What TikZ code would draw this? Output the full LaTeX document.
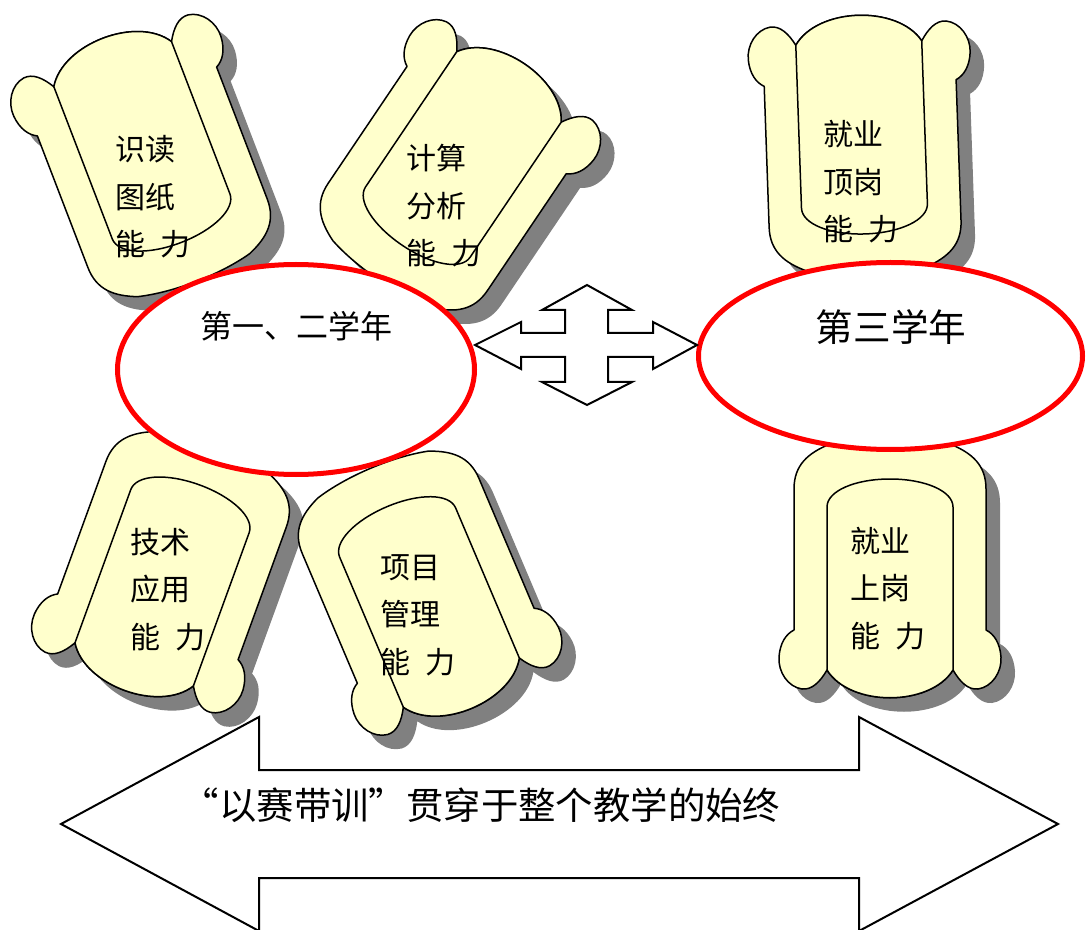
\documentclass[tikz,border=0pt]{standalone}
\usepackage{fontspec}
\setmainfont{Noto Sans CJK SC}
\definecolor{scrollfill}{HTML}{FFFFCC}
\definecolor{shadowgray}{HTML}{808080}
\definecolor{ringred}{HTML}{FF0000}
\tikzset{
  outerp/.style={insert path={
    (63,-93) .. controls (70,-105) and (78,-113) .. (88,-112)
    .. controls (102,-110) and (112,-95) .. (111,-80)
    .. controls (110,-66) and (104,-57) .. (96,-53)
    -- (96,88) .. controls (96,112) and (82,124) .. (60,133)
    .. controls (25,142) and (-25,142) .. (-60,133)
    .. controls (-82,124) and (-96,112) .. (-96,88)
    -- (-96,-53) .. controls (-104,-57) and (-110,-66) .. (-111,-80)
    .. controls (-112,-95) and (-102,-110) .. (-88,-112)
    .. controls (-78,-113) and (-70,-105) .. (-63,-93)
    .. controls (-40,-130) and (40,-130) .. (63,-93) -- cycle}},
  innerp/.style={insert path={
    (-63,-93) -- (-63,70) .. controls (-63,86) and (-35,98) .. (0,98)
    .. controls (35,98) and (63,86) .. (63,70) -- (63,-93)
    .. controls (40,-130) and (-40,-130) .. (-63,-93) -- cycle}},
  scrollline/.style={draw=black, line width=0.75pt, fill=scrollfill, line join=round},
  shadowfill/.style={fill=shadowgray},
  captext/.style={inner sep=0pt, font=\fontsize{15pt}{18pt}\selectfont},
  ringline/.style={draw=ringred, line width=2.5pt, fill=white},
  arrowline/.style={draw=black, line width=1pt, fill=white, line join=miter},
}
\newcommand{\scrollat}[3]{%
  \begin{scope}[shift={(#1+14,#2+14)}, x=0.5pt, y=0.5pt, rotate=#3]
    \path[shadowfill, outerp];
  \end{scope}
  \begin{scope}[shift={(#1,#2)}, x=0.5pt, y=0.5pt, rotate=#3]
    \path[scrollline, outerp];
    \path[scrollline, innerp];
  \end{scope}}
\newcommand{\threelines}[6]{%
  \node[captext, anchor=base west] (#1a) at (#2,#3) {#4};
  \node[captext, anchor=base west] (#1b) at (#2,#3+47.5) {#5};
  \node[captext, anchor=base west] (#1c) at (#2,#3+95) {#6};}
\begin{document}
\begin{tikzpicture}[x=0.5pt, y=-0.5pt]
  \useasboundingbox (0,0) rectangle (1086,930);
  \fill[white] (0,0) rectangle (1086,930);
  % scroll shapes
  \scrollat{146}{151}{201}
  \scrollat{457}{164}{146}
  \scrollat{862}{136}{182}
  \scrollat{166}{577}{-20}
  \scrollat{425}{597}{23}
  \scrollat{890}{577}{0}
  % texts in scrolls
  \threelines{sa}{115}{161}{识读}{图纸}{能\hspace{0.5em}力}
  \threelines{sb}{406}{170}{计算}{分析}{能\hspace{0.5em}力}
  \threelines{sc}{823}{146}{就业}{顶岗}{能\hspace{0.5em}力}
  \threelines{sd}{130}{553}{技术}{应用}{能\hspace{0.5em}力}
  \threelines{se}{380}{578}{项目}{管理}{能\hspace{0.5em}力}
  \threelines{sf}{850}{552}{就业}{上岗}{能\hspace{0.5em}力}
  % ellipses
  \draw[ringline] (296,369.5) ellipse [x radius=178.5, y radius=105];
  \draw[ringline] (890.5,356) ellipse [x radius=192, y radius=93.5];
  \node[inner sep=0pt, anchor=base, font=\fontsize{16pt}{19pt}\selectfont] (yr12) at (296,339) {第一、二学年};
  \node[inner sep=0pt, anchor=base, font=\fontsize{18.8pt}{22pt}\selectfont] (yr3) at (891,342) {第三学年};
  % four-way arrow
  \draw[arrowline] (587,285) -- (632,310) -- (608,310) -- (608,333) -- (653,333) -- (653,322)
    -- (697,345) -- (653,369) -- (653,357) -- (608,357) -- (608,382) -- (632,382)
    -- (587,405) -- (542,382) -- (565,382) -- (565,357) -- (521,357) -- (521,369)
    -- (475,345) -- (521,322) -- (521,333) -- (565,333) -- (565,310) -- (542,310) -- cycle;
  % bottom double arrow
  \draw[arrowline] (61,824) -- (259,717) -- (259,770) -- (859,770) -- (859,717) -- (1058,824)
    -- (859,931) -- (859,878) -- (259,878) -- (259,931) -- cycle;
  \node[inner sep=0pt, anchor=base, font=\fontsize{18.7pt}{22pt}\selectfont] (motto) at (481,819) {“以赛带训”贯穿于整个教学的始终};
\end{tikzpicture}
\end{document}
